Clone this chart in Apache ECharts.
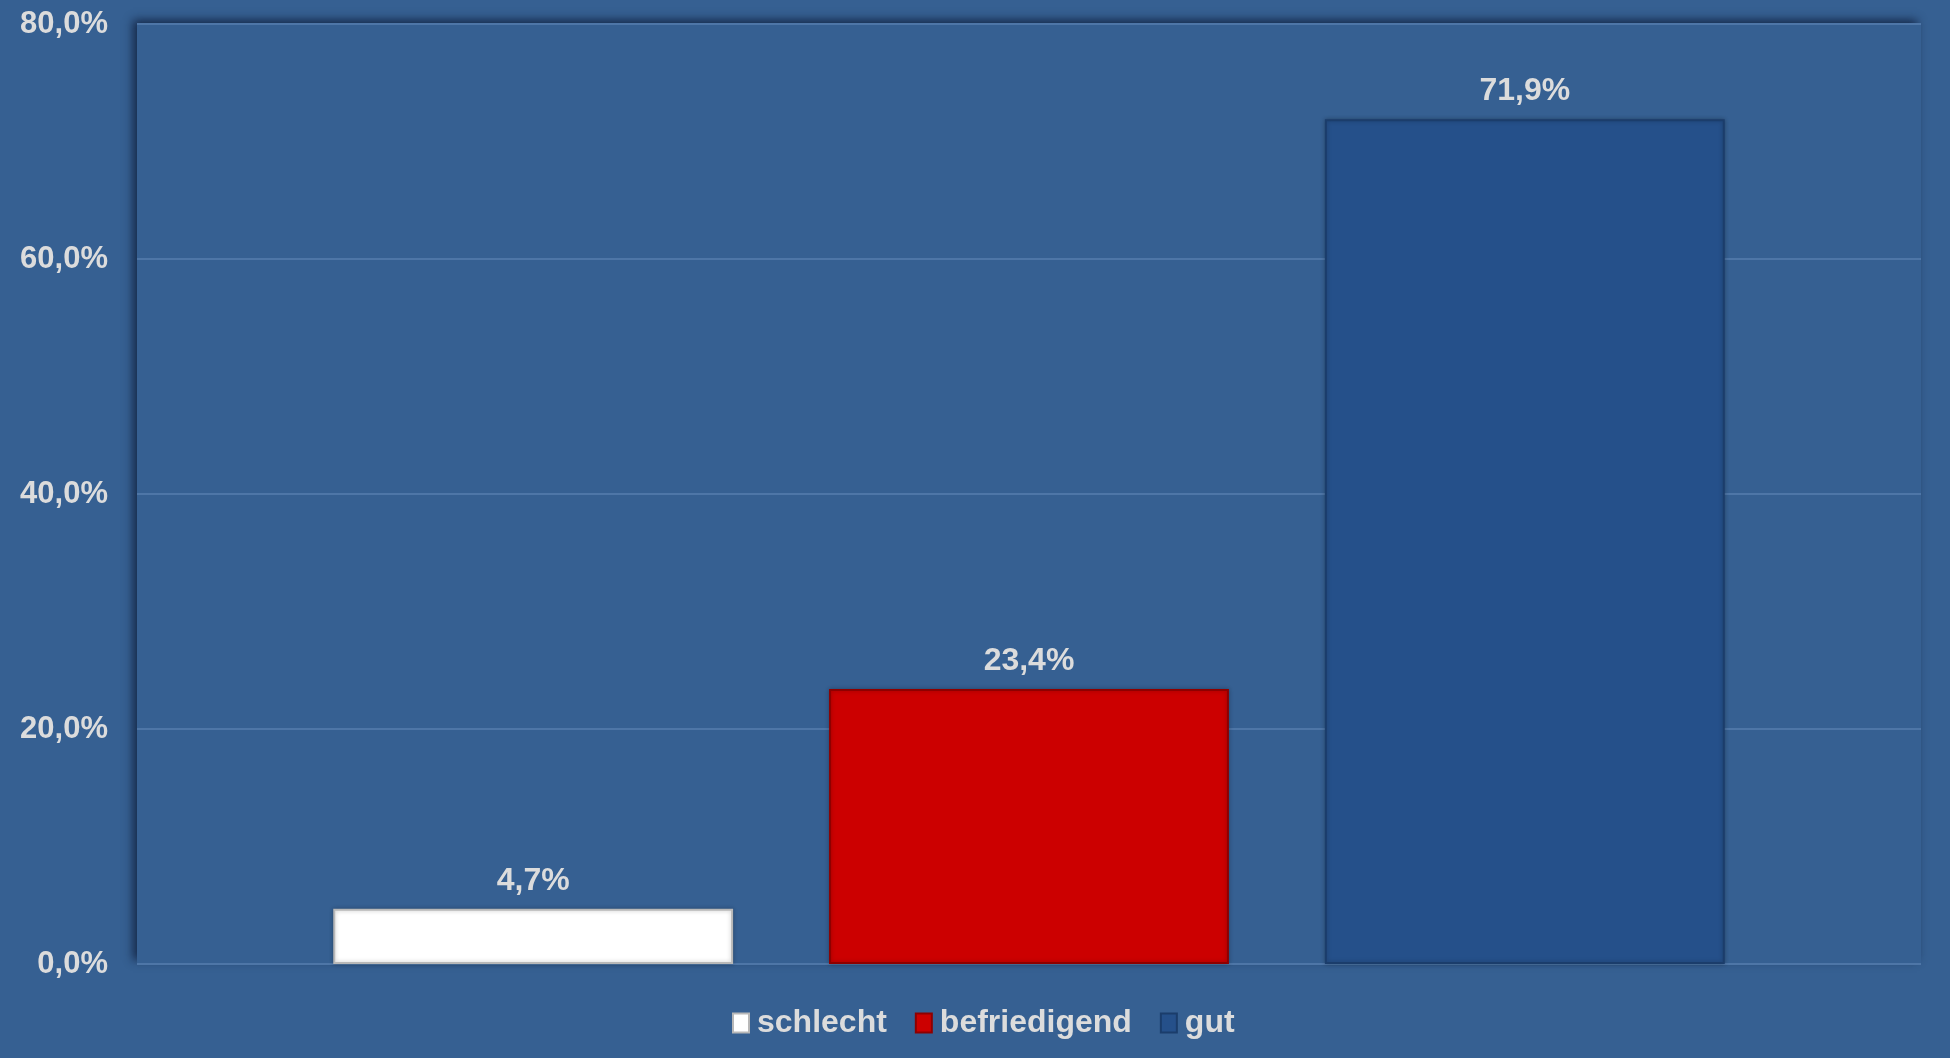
<!DOCTYPE html>
<html>
<head>
<meta charset="utf-8">
<script src="https://cdn.jsdelivr.net/npm/echarts@6/dist/echarts.min.js"></script>
<style>
html,body{margin:0;padding:0;background:#366092;}
#c{width:1950px;height:1058px;}
</style>
</head>
<body>
<div id="c"></div>
<script>
const categories = [''];
const seriesNames = ['schlecht', 'befriedigend', 'gut'];
const seriesValues = [4.7, 23.4, 71.9];
const seriesColors = ['#FFFFFF', '#CC0000', '#25508A'];
const borderColors = ['#B8B8B8', '#8E0000', '#1B3D6B'];
const yTicks = { min: 0, max: 80, interval: 20 };

const fmt = v => Number(v).toFixed(1).replace('.', ',') + '%';
const FONT = '"Liberation Sans", Arial, sans-serif';
const TXT = '#DCDCDC';

const chart = echarts.init(document.getElementById('c'));
chart.setOption({
  backgroundColor: '#366092',
  animation: false,
  grid: {
    left: 137, right: 29, top: 24, bottom: 94,
    show: true,
    backgroundColor: '#366092',
    borderWidth: 0,
    shadowColor: 'rgba(15,30,60,0.85)',
    shadowBlur: 9,
    shadowOffsetX: -4,
    shadowOffsetY: -4
  },
  legend: {
    data: seriesNames,
    left: 727,
    top: 1002,
    icon: 'rect',
    itemWidth: 16,
    itemHeight: 19,
    itemGap: 28,
    textStyle: { color: TXT, fontSize: 32, fontWeight: 'bold', fontFamily: FONT, padding: [0, 0, 0, 3] }
  },
  xAxis: {
    type: 'category',
    data: categories,
    axisLine: { show: false },
    axisTick: { show: false },
    axisLabel: { show: false }
  },
  yAxis: {
    type: 'value',
    min: yTicks.min, max: yTicks.max, interval: yTicks.interval,
    axisLine: { show: false },
    axisTick: { show: false },
    axisLabel: {
      formatter: fmt, color: TXT, fontSize: 31, fontWeight: 'bold', fontFamily: FONT, margin: 29
    },
    splitLine: { lineStyle: { color: '#4E76A7', width: 2 } }
  },
  series: seriesNames.map((n, i) => ({
    name: n,
    type: 'bar',
    data: [seriesValues[i]],
    barGap: '24%',
    barCategoryGap: '22%',
    itemStyle: {
      color: seriesColors[i],
      borderColor: borderColors[i],
      borderWidth: 2,
      shadowColor: 'rgba(0,0,0,0.25)',
      shadowBlur: 4
    },
    label: {
      show: true,
      position: 'top',
      distance: 12,
      formatter: p => fmt(p.value),
      color: TXT, fontSize: 32, fontWeight: 'bold', fontFamily: FONT
    }
  }))
});
</script>
</body>
</html>
